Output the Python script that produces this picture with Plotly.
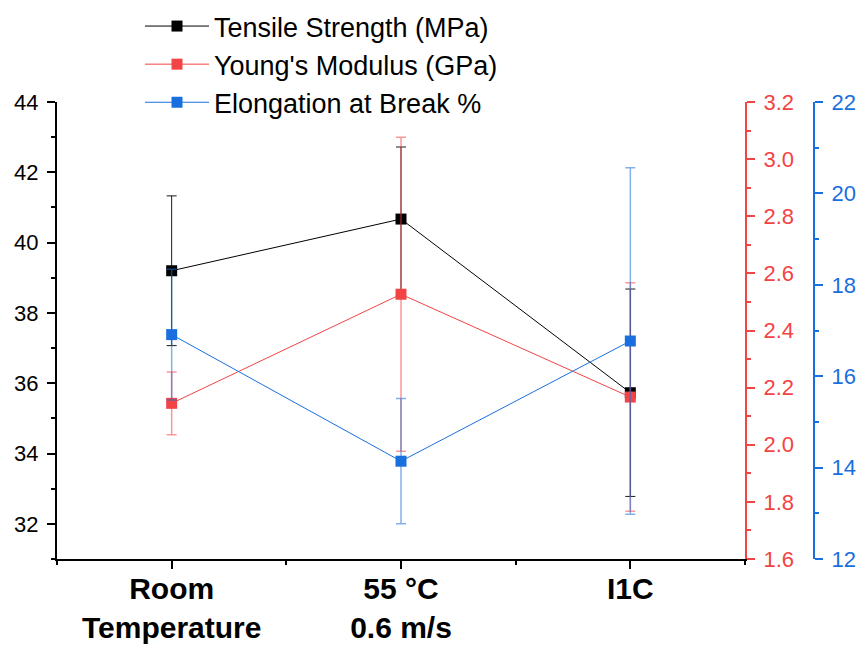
import plotly.graph_objects as go

# Test conditions
categories = ["Room<br>Temperature", "55 °C<br>0.6 m/s", "I1C"]
cat_pos = [0, 1, 2]

# Tensile strength (MPa)
tensile = [39.2, 40.67, 35.73]
tensile_err = [2.13, 2.05, 2.95]

# Young's modulus (GPa)
modulus = [2.145, 2.527, 2.167]
modulus_err = [0.11, 0.55, 0.40]

# Elongation at break (%)
elongation = [16.91, 14.14, 16.77]
elongation_err = [1.43, 1.37, 3.79]

BLACK = "#000000"
RED = "#F24444"
BLUE = "#1A6FDF"
FONT = "Liberation Sans, Arial, sans-serif"

fig = go.Figure()

fig.add_trace(go.Scatter(
    x=cat_pos, y=tensile, name="Tensile Strength (MPa)",
    mode="lines+markers",
    line=dict(color=BLACK, width=1),
    marker=dict(symbol="square", size=11, color=BLACK),
    error_y=dict(type="data", array=tensile_err, visible=True,
                 color="rgba(0,0,0,0.9)", thickness=1, width=5),
    yaxis="y",
))
fig.add_trace(go.Scatter(
    x=cat_pos, y=modulus, name="Young's Modulus (GPa)",
    mode="lines+markers",
    line=dict(color=RED, width=1),
    marker=dict(symbol="square", size=11, color=RED),
    error_y=dict(type="data", array=modulus_err, visible=True,
                 color="rgba(242,68,68,0.55)", thickness=1.5, width=5),
    yaxis="y2",
))
fig.add_trace(go.Scatter(
    x=cat_pos, y=elongation, name="Elongation at Break %",
    mode="lines+markers",
    line=dict(color=BLUE, width=1),
    marker=dict(symbol="square", size=11, color=BLUE),
    error_y=dict(type="data", array=elongation_err, visible=True,
                 color="rgba(26,111,223,0.55)", thickness=1.5, width=5),
    yaxis="y3",
))

W, H = 859, 647
L, R, T, B = 57, 0, 102, 88
plot_w = W - L - R
plot_h = H - T - B
x_end = 688 / plot_w

fig.update_layout(
    width=W, height=H,
    margin=dict(l=L, r=R, t=T, b=B),
    paper_bgcolor="white", plot_bgcolor="white",
    font=dict(family=FONT, size=22, color="black"),
    showlegend=True,
    legend=dict(
        x=(140 - L) / plot_w, y=1 + 100 / plot_h,
        xanchor="left", yanchor="top",
        font=dict(size=27, family=FONT, color="black"),
        bgcolor="rgba(0,0,0,0)", itemwidth=64,
        tracegroupgap=0,
    ),
    xaxis=dict(
        domain=[0, x_end], range=[-0.5, 2.5],
        tickmode="array", tickvals=cat_pos, ticktext=categories,
        tickfont=dict(size=30, family=FONT, color="black", weight="bold"),
        showline=True, linecolor="black", linewidth=2,
        ticks="outside", ticklen=8, tickwidth=1.5, tickcolor="black",
        minor=dict(tickmode="array", tickvals=[-0.5, 0.5, 1.5, 2.5],
                   ticks="outside", ticklen=4, tickwidth=1.5, tickcolor="black"),
        showgrid=False, zeroline=False, fixedrange=True,
        ticklabelstandoff=-6,
    ),
    yaxis=dict(
        range=[31, 44], tickmode="linear", tick0=32, dtick=2,
        tickfont=dict(size=22, family=FONT, color="black"),
        showline=True, linecolor="black", linewidth=2,
        ticks="outside", ticklen=8, tickwidth=1.5, tickcolor="black",
        minor=dict(tick0=31, dtick=1, ticks="outside", ticklen=4,
                   tickwidth=1.5, tickcolor="black"),
        showgrid=False, zeroline=False, ticklabelstandoff=4,
    ),
    yaxis2=dict(
        range=[1.6, 3.2], tickmode="linear", tick0=1.6, dtick=0.2,
        tickformat=".1f", side="right", overlaying="y", anchor="x",
        tickfont=dict(size=22, family=FONT, color=RED),
        showline=True, linecolor=RED, linewidth=2,
        ticks="outside", ticklen=8, tickwidth=1.5, tickcolor=RED,
        minor=dict(tick0=1.6, dtick=0.1, ticks="outside", ticklen=4,
                   tickwidth=1.5, tickcolor=RED),
        showgrid=False, zeroline=False, ticklabelstandoff=4,
    ),
    yaxis3=dict(
        range=[12, 22], tickmode="linear", tick0=12, dtick=2,
        side="right", overlaying="y", anchor="free",
        position=(814 - L) / plot_w,
        tickfont=dict(size=22, family=FONT, color=BLUE),
        showline=True, linecolor=BLUE, linewidth=2,
        ticks="outside", ticklen=8, tickwidth=1.5, tickcolor=BLUE,
        minor=dict(tick0=12, dtick=1, ticks="outside", ticklen=4,
                   tickwidth=1.5, tickcolor=BLUE),
        showgrid=False, zeroline=False, ticklabelstandoff=4,
    ),
)

fig.write_html("out.html")
